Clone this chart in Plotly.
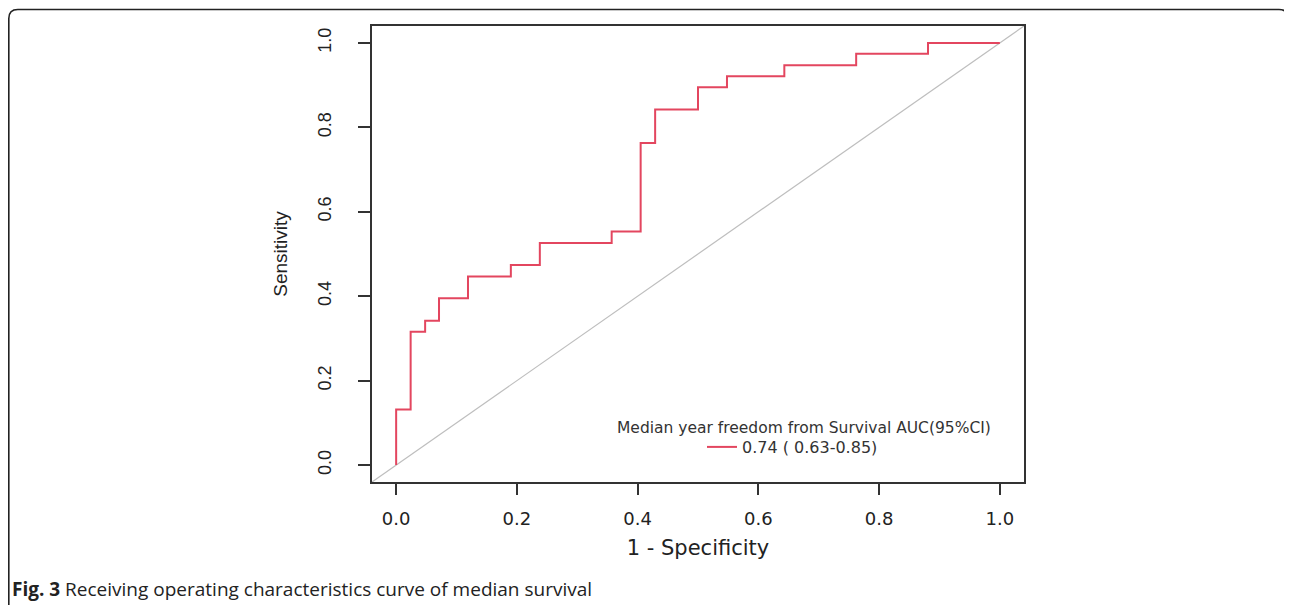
import plotly.graph_objects as go

# ROC curve step points
fpr = [0.0, 0.0, 0.024, 0.048, 0.071, 0.119, 0.190, 0.238, 0.357, 0.405,
       0.429, 0.500, 0.548, 0.643, 0.762, 0.881, 1.000]
tpr = [0.0, 0.132, 0.316, 0.342, 0.395, 0.447, 0.474, 0.526, 0.553, 0.763,
       0.842, 0.895, 0.921, 0.947, 0.974, 1.000, 1.000]

ref_x = [-0.04, 1.04]
ref_y = [-0.04, 1.04]

tick_vals = [0.0, 0.2, 0.4, 0.6, 0.8, 1.0]
tick_text = ["0.0", "0.2", "0.4", "0.6", "0.8", "1.0"]

legend_title = "Median year freedom from Survival AUC(95%CI)"
series_name = "0.74 ( 0.63-0.85)"
caption_bold = "Fig. 3"
caption_text = "Receiving operating characteristics curve of median survival"

# page body has an 8px margin, so the figure is drawn from (8, 8)
OFF = 8
W, H = 1292 - OFF, 605 - OFF
L, R, T, B = 372 - OFF, 1024 - OFF, 26 - OFF, 482 - OFF

fig = go.Figure()
fig.add_trace(go.Scatter(x=ref_x, y=ref_y, mode="lines",
                         line=dict(color="#BEBEBE", width=1.2),
                         showlegend=False, hoverinfo="skip"))
fig.add_trace(go.Scatter(x=fpr, y=tpr, mode="lines", name=series_name,
                         line=dict(color="#E3465F", width=2, shape="hv")))

def px_x(px):
    return (px - OFF - L) / (R - L)

def px_y(py):
    return (B - (py - OFF)) / (B - T)

# rounded outer frame
fl, fr, ft, fb = px_x(8.8), px_x(1288), px_y(9.5), px_y(620)
rx, ry = 9 / (R - L), 9 / (B - T)
path = (f"M {fl},{fb} L {fl},{ft - ry} Q {fl},{ft} {fl + rx},{ft} "
        f"L {fr - rx},{ft} Q {fr},{ft} {fr},{ft - ry} L {fr},{fb} Z")
fig.add_shape(type="path", path=path, xref="paper", yref="paper",
              line=dict(color="#222222", width=1.6), layer="below")

fig.add_annotation(text=legend_title, xref="paper", yref="paper",
                   x=px_x(804), y=px_y(428), xanchor="center", yanchor="middle",
                   showarrow=False,
                   font=dict(family="DejaVu Sans", size=15.5, color="#333333"))
fig.add_annotation(text=f"<b>{caption_bold}</b> {caption_text}", xref="paper", yref="paper",
                   x=px_x(10), y=px_y(589), xanchor="left", yanchor="middle",
                   showarrow=False,
                   font=dict(family="Open Sans", size=19, color="#222222"))

axis_common = dict(showgrid=False, zeroline=False, showline=True, mirror=True,
                   linecolor="#333333", linewidth=1.5, ticks="outside",
                   tickcolor="#333333", tickwidth=1.5,
                   tickvals=tick_vals, ticktext=tick_text)

fig.update_layout(
    width=W, height=H,
    margin=dict(l=L, r=W - R, t=T, b=H - B),
    paper_bgcolor="white", plot_bgcolor="white",
    xaxis=dict(range=[-0.04, 1.04], ticklen=11, ticklabelstandoff=9,
               tickfont=dict(family="DejaVu Sans", size=18, color="#222222"),
               title=dict(text="1 - Specificity", standoff=12,
                          font=dict(family="DejaVu Sans", size=21, color="#222222")),
               **axis_common),
    yaxis=dict(range=[-0.04, 1.04], ticklen=12, tickangle=-90, ticklabelstandoff=20,
               tickfont=dict(family="Liberation Sans", size=18, color="#222222"),
               title=dict(text="Sensitivity", standoff=22,
                          font=dict(family="Liberation Sans", size=19, color="#222222")),
               **axis_common),
    legend=dict(x=px_x(702), y=px_y(447), xanchor="left", yanchor="middle",
                bgcolor="rgba(0,0,0,0)", borderwidth=0,
                font=dict(family="DejaVu Sans", size=16, color="#333333")),
    showlegend=True,
)

fig.write_html("out.html")
